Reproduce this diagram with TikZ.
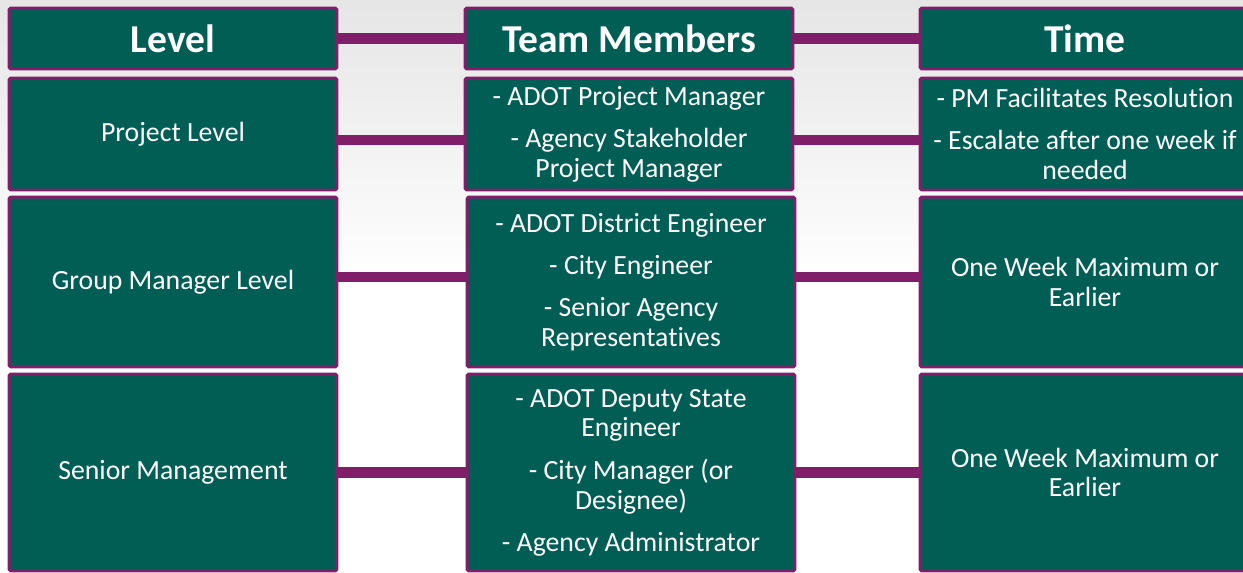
\documentclass[tikz,border=0pt]{standalone}
\usepackage{fontspec}
\setmainfont{Carlito}[Ligatures=NoCommon]
\definecolor{boxgreen}{RGB}{0,94,85}
\definecolor{lineplum}{RGB}{128,30,106}
\tikzset{
  cell/.style={draw=lineplum, line width=1.7pt, fill=boxgreen, text=white,
    align=center, inner sep=0pt, rounded corners=1pt,
    font=\fontsize{15.8}{17}\selectfont},
  head/.style={cell, minimum height=1.22cm, font=\fontsize{22.5}{25}\selectfont\bfseries},
  link/.style={draw=lineplum, line width=5.8pt}
}
\begin{document}
\begin{tikzpicture}[x=0.02cm, y=-0.02cm]
% фон
            \clip ( 0, 0 ) rectangle ( 1243, 572 );
            \shade [top color=black!10, bottom color=white, middle color=white] ( 0, 0 ) rectangle ( 1243, 572 );

% заголовки
            \node [head, minimum width=6.56cm] (level) at ( 173, 38.5 ) {Level};
            \node [head, minimum width=6.56cm] (team) at ( 629, 38.5 ) {Team Members};
            \node [head, minimum width=6.6cm] (time) at ( 1085, 38.5 ) {Time};

% уровень проекта
            \node [cell, minimum width=6.56cm, minimum height=2.24cm] (lvlA) at ( 173, 134 ) {Project Level};
            \node [cell, minimum width=6.56cm, minimum height=2.24cm] (teamA) at ( 629, 134 )
                {- ADOT Project Manager\\[7pt] - Agency Stakeholder\\Project Manager};
            \node [cell, minimum width=6.6cm, minimum height=2.24cm] (timeA) at ( 1085, 134 )
                {- PM Facilitates Resolution\\[7pt] - Escalate after one week if\\needed};

% уровень руководителей групп
            \node [cell, minimum width=6.56cm, minimum height=3.4cm] (lvlB) at ( 173, 282 ) {Group Manager Level};
            \node [cell, minimum width=6.56cm, minimum height=3.4cm] (teamB) at ( 631, 282 )
                {- ADOT District Engineer\\[7pt] - City Engineer\\[7pt] - Senior Agency\\Representatives};
            \node [cell, minimum width=6.6cm, minimum height=3.4cm] (timeB) at ( 1085, 282 )
                {One Week Maximum or\\Earlier};

% высшее руководство
            \node [cell, minimum width=6.56cm, minimum height=3.94cm] (lvlC) at ( 173, 472.5 ) {Senior Management};
            \node [cell, minimum width=6.56cm, minimum height=3.94cm] (teamC) at ( 631, 472.5 )
                {- ADOT Deputy State\\Engineer\\[7pt] - City Manager (or\\Designee)\\[7pt] - Agency Administrator};
            \node [cell, minimum width=6.6cm, minimum height=3.94cm] (timeC) at ( 1085, 472.5 )
                {One Week Maximum or\\Earlier};

% связи
            \draw [link] (level.east) -- (team.west);
            \draw [link] (team.east) -- (time.west);
            \draw [link] ([yshift=-3.4pt]lvlA.east) -- ([yshift=-3.4pt]teamA.west);
            \draw [link] ([yshift=-3.4pt]teamA.east) -- ([yshift=-3.4pt]timeA.west);
            \draw [link] ([yshift=2.8pt]lvlB.east) -- ([yshift=2.8pt]teamB.west);
            \draw [link] ([yshift=2.8pt]teamB.east) -- ([yshift=2.8pt]timeB.west);
            \draw [link] (lvlC.east) -- (teamC.west);
            \draw [link] (teamC.east) -- (timeC.west);
        \end{tikzpicture}
\end{document}
